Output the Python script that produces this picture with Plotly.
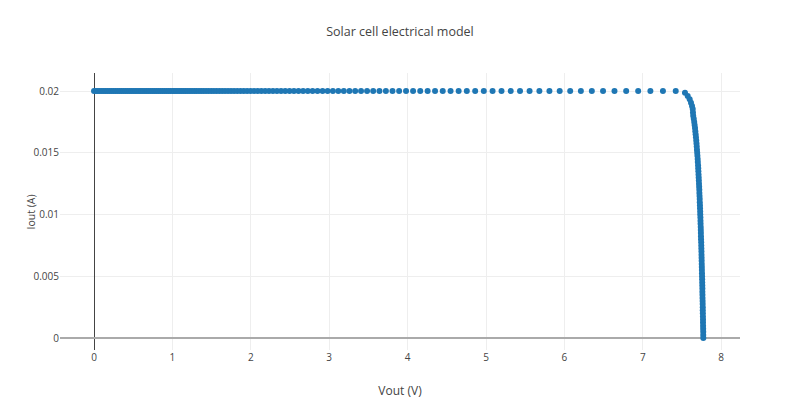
import plotly.graph_objs as go

# flat part of the curve, Iout ~ Isc (dense points near 0 V merge into a line)
v_flat = [0.0, 0.025, 0.05, 0.075, 0.1, 0.125, 0.15, 0.175, 0.2, 0.225,
          0.25, 0.275, 0.3, 0.325, 0.35, 0.375, 0.4, 0.425, 0.45, 0.475,
          0.5, 0.525, 0.55, 0.575, 0.6, 0.625, 0.65, 0.675, 0.7, 0.725,
          0.75, 0.775, 0.8, 0.825, 0.85, 0.875, 0.9, 0.925, 0.95, 0.975,
          1.002, 1.024, 1.047, 1.071, 1.095, 1.120, 1.145, 1.171, 1.197, 1.224,
          1.251, 1.280, 1.308, 1.338, 1.368, 1.399, 1.430, 1.462, 1.495, 1.529,
          1.563, 1.598, 1.634, 1.671, 1.709, 1.747, 1.786, 1.827, 1.868, 1.910,
          1.953, 1.997, 2.042, 2.088, 2.135, 2.183, 2.232, 2.282, 2.333, 2.386,
          2.439, 2.494, 2.550, 2.608, 2.667, 2.727, 2.788, 2.851, 2.915, 2.980,
          3.047, 3.116, 3.186, 3.258, 3.331, 3.406, 3.483, 3.561, 3.641, 3.723,
          3.807, 3.892, 3.980, 4.070, 4.161, 4.255, 4.350, 4.448, 4.548, 4.651,
          4.755, 4.862, 4.972, 5.084, 5.198, 5.315, 5.434, 5.556, 5.681, 5.809,
          5.940, 6.074, 6.210, 6.350, 6.493, 6.639, 6.788, 6.941, 7.097, 7.257,
          7.42]
i_flat = [0.02] * len(v_flat)

# knee and drop towards open circuit voltage
v_drop = [7.538, 7.573, 7.598, 7.615, 7.628, 7.637, 7.640,
          7.643, 7.650, 7.656, 7.661, 7.666, 7.670, 7.674, 7.678, 7.682, 7.685,
          7.688, 7.691, 7.694, 7.697, 7.700, 7.702, 7.705, 7.707, 7.709, 7.711,
          7.713, 7.715, 7.717, 7.719, 7.721, 7.722, 7.724, 7.726, 7.727, 7.729,
          7.730, 7.732, 7.733, 7.735, 7.736, 7.737, 7.739, 7.740, 7.741, 7.742,
          7.743, 7.745, 7.746, 7.747, 7.748, 7.749, 7.750, 7.751, 7.752, 7.753,
          7.754, 7.755, 7.756, 7.757, 7.758, 7.759, 7.760, 7.760, 7.761, 7.762,
          7.763, 7.764, 7.765, 7.765, 7.766, 7.767, 7.768, 7.768, 7.769, 7.770,
          7.771, 7.771, 7.772]
i_drop = [0.01986, 0.01960, 0.01933, 0.01905, 0.01879, 0.01854, 0.01826,
          0.0180, 0.01775, 0.0175, 0.01725, 0.0170, 0.01675, 0.0165, 0.01625, 0.0160, 0.01575,
          0.0155, 0.01525, 0.0150, 0.01475, 0.0145, 0.01425, 0.0140, 0.01375, 0.0135, 0.01325,
          0.0130, 0.01275, 0.0125, 0.01225, 0.0120, 0.01175, 0.0115, 0.01125, 0.0110, 0.01075,
          0.0105, 0.01025, 0.0100, 0.00975, 0.0095, 0.00925, 0.0090, 0.00875, 0.0085, 0.00825,
          0.0080, 0.00775, 0.0075, 0.00725, 0.0070, 0.00675, 0.0065, 0.00625, 0.0060, 0.00575,
          0.0055, 0.00525, 0.0050, 0.00475, 0.0045, 0.00425, 0.0040, 0.00375, 0.0035, 0.00325,
          0.0030, 0.00275, 0.0025, 0.00225, 0.0020, 0.00175, 0.0015, 0.00125, 0.0010, 0.00075,
          0.0005, 0.00025, 0.0]

vout = v_flat + v_drop
iout = i_flat + i_drop

trace0 = go.Scatter(x=vout, y=iout, mode='markers',
                    marker=dict(color='#1f77b4', size=6))

# the page puts the plot 8px in from the top left, so margins make up for it
layout = go.Layout(
    title=dict(text='Solar cell electrical model', x=392 / 792, xanchor='center',
               y=1 - 24 / 406, yanchor='middle', font=dict(size=12.5)),
    font=dict(family='Open Sans', color='#444', size=10),
    width=792, height=406,
    margin=dict(l=52, r=60, t=65, b=64),
    paper_bgcolor='white', plot_bgcolor='white',
    showlegend=False,
    xaxis=dict(title=dict(text='Vout (V)', standoff=23), range=[-0.434, 8.24],
               dtick=1, gridcolor='#eee', zeroline=True, automargin=False,
               zerolinecolor='#444', zerolinewidth=1),
    yaxis=dict(range=[-0.00097, 0.02146],
               dtick=0.005, gridcolor='#eee', zeroline=True, automargin=False,
               zerolinecolor='#aaa', zerolinewidth=2),
    annotations=[dict(text='Iout (A)', textangle=-90, showarrow=False,
                      xref='paper', yref='paper', x=-30 / 680, y=0.5,
                      xanchor='center', yanchor='middle', font=dict(size=10.5))],
)

fig = go.Figure(data=[trace0], layout=layout)
fig.write_html('out.html')
